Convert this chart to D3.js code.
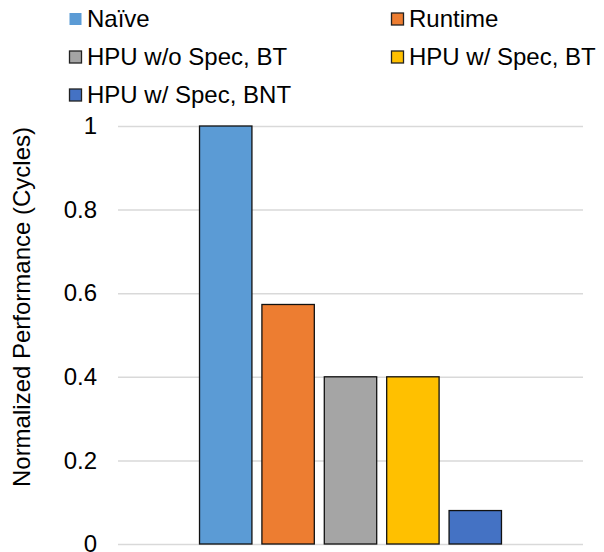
<!DOCTYPE html>
<html><head><meta charset="utf-8">
<script src="https://cdn.jsdelivr.net/npm/d3@7"></script>
<style>html,body{margin:0;padding:0;background:#fff;} svg{display:block;font-family:"Liberation Sans",Arial,sans-serif;}</style>
</head><body>
<svg id="c" width="604" height="552"></svg>
<script>
const categories = ["All"];
const series = ["Naïve", "Runtime", "HPU w/o Spec, BT", "HPU w/ Spec, BT", "HPU w/ Spec, BNT"];
const values = [1.0, 0.573, 0.40, 0.40, 0.08];
const colors = ["#5B9BD5", "#ED7D31", "#A5A5A5", "#FFC000", "#4472C4"];
const yTicks = [0, 0.2, 0.4, 0.6, 0.8, 1];
const yTitle = "Normalized Performance (Cycles)";

(function () {
const svg = d3.select("#c");
const mLeft = 118, mRight = 583, mTop = 126, mBottom = 544;

const y = d3.scaleLinear().domain([0, 1]).range([mBottom, mTop]);
const x0 = d3.scaleBand().domain(categories).range([mLeft, mRight]).padding(0.197);
const x1 = d3.scaleBand().domain(series)
  .range([x0(categories[0]), x0(categories[0]) + x0.bandwidth()])
  .paddingInner(0.16).paddingOuter(0.08);

const yAxis = d3.axisLeft(y).tickValues(yTicks).tickSize(-(mRight - mLeft)).tickPadding(21)
  .tickFormat(d => d3.format("")(d));
const ga = svg.append("g").attr("transform", `translate(${mLeft},0)`).call(yAxis);
ga.select(".domain").remove();
ga.selectAll(".tick line").attr("stroke", "#d9d9d9").attr("stroke-width", 1.5);
ga.selectAll(".tick text").attr("fill", "#000").style("font-size", "24px")
  .style("font-family", "'Liberation Sans', Arial, sans-serif");

svg.append("g").selectAll("rect").data(series).join("rect")
  .attr("x", d => x1(d))
  .attr("y", (d, i) => y(values[i]))
  .attr("width", x1.bandwidth())
  .attr("height", (d, i) => y(0) - y(values[i]))
  .attr("fill", (d, i) => colors[i])
  .attr("stroke", "#111")
  .attr("stroke-width", 1.3);

svg.append("text")
  .attr("transform", "translate(30,307) rotate(-90)")
  .attr("text-anchor", "middle")
  .style("font-size", "24px")
  .attr("fill", "#000")
  .text(yTitle);

const legPos = [[69, 19], [391, 19], [69, 57], [391, 57], [69, 95]];
const lg = svg.append("g").selectAll("g").data(series).join("g")
  .attr("transform", (d, i) => `translate(${legPos[i][0]},${legPos[i][1]})`);
lg.append("rect").attr("x", 0.5).attr("y", -6).attr("width", 12).attr("height", 12)
  .attr("fill", (d, i) => colors[i])
  .attr("stroke", (d, i) => i === 0 ? "none" : "#222").attr("stroke-width", 1.3);
lg.append("text").attr("x", 18).attr("y", 0).attr("dy", "0.35em")
  .style("font-size", "24px").attr("fill", "#000").text(d => d);
})();
</script>
</body></html>
